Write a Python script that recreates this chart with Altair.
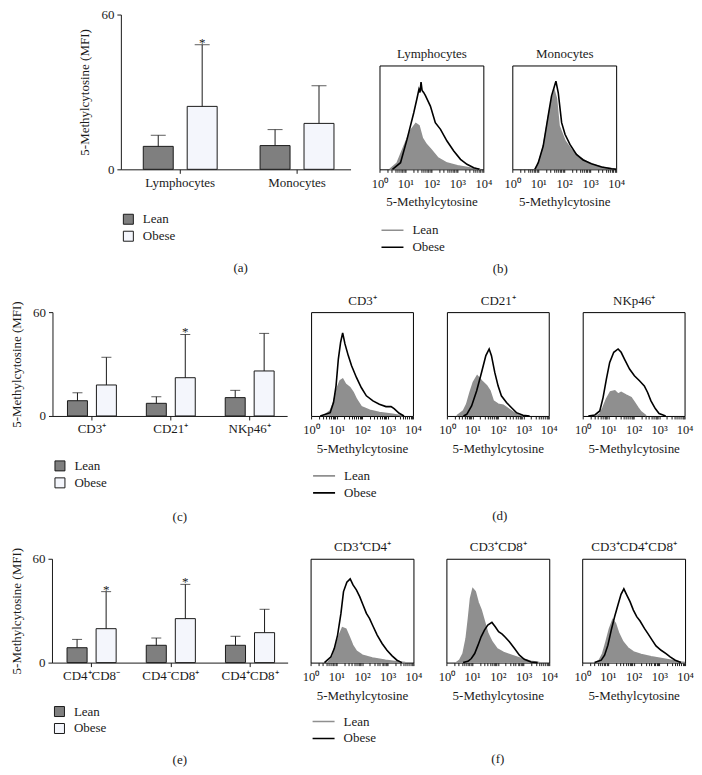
import math
import altair as alt
import pandas as pd

FONT = "Liberation Serif"
FS = 13
INK = "#1a1a1a"
GRAY_BAR = "#7f7f7f"
WHITE_BAR = "#f4f6fc"
GRAY_HIST = "#8f8f8f"

groups = ["Lean", "Obese"]

# ---------------- bar panels: mean and top of error bar (mean + SD) ----------------
cats_a = ["Lymphocytes", "Monocytes"]
lean_a = [8.9, 9.2]
lean_a_top = [13.2, 15.4]
obese_a = [24.4, 17.8]
obese_a_top = [48.3, 32.4]
sig_a = ["*", ""]

cats_c = ["CD3⁺", "CD21⁺", "NKp46⁺"]
lean_c = [8.8, 7.3, 10.6]
lean_c_top = [13.4, 11.1, 14.8]
obese_c = [17.9, 22.1, 26.0]
obese_c_top = [33.9, 47.1, 47.7]
sig_c = ["", "*", ""]

cats_e = ["CD4⁺CD8⁻", "CD4⁻CD8⁺", "CD4⁺CD8⁺"]
lean_e = [8.6, 10.0, 10.0]
lean_e_top = [13.4, 14.2, 15.2]
obese_e = [19.6, 25.4, 17.3]
obese_e_top = [41.0, 45.2, 30.8]
sig_e = ["*", "*", ""]

# ---------------- histograms: x = log10(intensity), y = relative count ----------------
lymph_lean_x = [0.40, 0.68, 0.94, 1.19, 1.40, 1.52, 1.65, 1.80, 1.98, 2.25, 2.60, 3.00, 3.50, 3.88]
lymph_lean_y = [0, 6, 22, 37, 44, 42, 30, 24, 19, 11, 6, 3.5, 1.2, 0]
lymph_obese_x = [0.50, 0.81, 1.06, 1.32, 1.45, 1.52, 1.56, 1.60, 1.64, 1.70, 1.77, 1.96, 2.15, 2.35, 2.60, 2.86, 3.12, 3.37, 3.63, 3.85]
lymph_obese_y = [0, 6.4, 28.8, 54.5, 68.9, 77, 74, 84, 76, 74, 71, 60.9, 44.9, 38.5, 27.2, 17.6, 9.6, 4.8, 1.6, 0]

mono_lean_x = [0.87, 1.00, 1.19, 1.38, 1.51, 1.62, 1.70, 1.80, 2.03, 2.28, 2.60, 3.05, 3.56, 4.0]
mono_lean_y = [0, 5, 21, 49, 66, 75, 68, 42, 27.2, 18.6, 11.2, 4.8, 1.6, 0]
mono_obese_x = [0.87, 1.00, 1.19, 1.38, 1.51, 1.68, 1.77, 1.90, 2.03, 2.22, 2.47, 2.73, 3.05, 3.44, 3.82, 4.0]
mono_obese_y = [0, 6.4, 22.4, 51.3, 70.5, 84.9, 73.7, 44.9, 33.7, 24.0, 14.4, 9.0, 5.4, 2.2, 0.6, 0]

cd3_lean_x = [0.49, 0.75, 0.88, 1.01, 1.14, 1.24, 1.35, 1.52, 1.65, 1.78, 1.97, 2.30, 2.68, 3.20, 3.59]
cd3_lean_y = [0, 4.8, 12.9, 25.8, 33.9, 35.5, 30.6, 27.4, 22.6, 16.1, 9.0, 5.5, 3.2, 1.6, 0]
cd3_obese_x = [0.36, 0.75, 0.88, 0.98, 1.07, 1.16, 1.24, 1.33, 1.46, 1.59, 1.78, 1.97, 2.17, 2.43, 2.68, 2.94, 3.14, 3.26, 3.46, 3.65]
cd3_obese_y = [0, 3.2, 12.9, 29.0, 54.8, 71.0, 80.0, 69.4, 58.1, 48.4, 37.1, 27.4, 19.4, 14.5, 11.3, 9.0, 9.0, 7.1, 2.6, 0]

cd21_lean_x = [0.39, 0.65, 0.78, 0.91, 1.04, 1.19, 1.36, 1.56, 1.69, 1.82, 2.01, 2.21, 2.40, 2.66, 2.99]
cd21_lean_y = [0, 4.8, 11.3, 22.6, 32.3, 38.7, 33.9, 29.0, 24.2, 14.5, 11.3, 10.3, 7.1, 2.6, 0]
cd21_obese_x = [0.65, 0.78, 0.97, 1.17, 1.36, 1.53, 1.66, 1.75, 1.88, 2.01, 2.14, 2.34, 2.53, 2.73, 2.99, 3.25]
cd21_obese_y = [0, 1.6, 9.7, 24.2, 41.9, 58.1, 64.5, 58.1, 41.9, 29.0, 19.4, 12.9, 8.1, 3.2, 0.6, 0]

nk_lean_x = [0.54, 0.67, 0.80, 0.93, 1.09, 1.26, 1.39, 1.51, 1.71, 1.90, 2.03, 2.16, 2.29, 2.49]
nk_lean_y = [0, 1.6, 8.1, 16.1, 23.2, 24.2, 21.0, 22.6, 20.0, 17.7, 12.9, 8.1, 3.9, 0]
nk_obese_x = [0.22, 0.48, 0.67, 0.80, 0.93, 1.06, 1.22, 1.39, 1.51, 1.64, 1.84, 2.03, 2.23, 2.42, 2.55, 2.68, 2.85, 3.00, 3.26]
nk_obese_y = [0, 1.0, 4.8, 17.7, 35.5, 51.6, 61.3, 64.5, 61.3, 54.8, 45.2, 38.7, 33.9, 29.0, 22.6, 14.5, 7.1, 2.3, 0]

cd4_lean_x = [0.67, 0.86, 0.99, 1.12, 1.24, 1.37, 1.50, 1.63, 1.78, 2.01, 2.40, 2.91, 3.42, 3.68]
cd4_lean_y = [0, 5.5, 16.8, 26.5, 33.5, 32.3, 24.8, 16.8, 11.0, 7.1, 4.5, 2.3, 0.6, 0]
cd4_obese_x = [0.54, 0.79, 0.92, 1.05, 1.18, 1.28, 1.41, 1.54, 1.65, 1.78, 1.91, 2.04, 2.17, 2.29, 2.42, 2.59, 2.78, 2.97, 3.17, 3.36, 3.55]
cd4_obese_y = [0, 5.5, 13.5, 26.5, 47.4, 68.4, 77.4, 80.6, 74.8, 70.0, 63.5, 55.5, 47.4, 42.6, 35.5, 26.5, 18.4, 11.9, 6.5, 2.3, 0]

cd8_lean_x = [0.39, 0.52, 0.65, 0.77, 0.86, 0.94, 1.03, 1.12, 1.23, 1.35, 1.48, 1.61, 1.77, 1.96, 2.22, 2.52, 2.90, 3.29, 3.61]
cd8_lean_y = [0, 2.3, 8.7, 23.2, 42.6, 61.9, 71.0, 68.4, 58.1, 50.6, 39.4, 28.1, 20.0, 13.5, 9.7, 7.1, 3.9, 1.3, 0]
cd8_obese_x = [0.65, 0.84, 0.97, 1.10, 1.23, 1.35, 1.48, 1.61, 1.77, 1.90, 2.03, 2.17, 2.30, 2.45, 2.65, 2.84, 3.03, 3.29, 3.55]
cd8_obese_y = [0, 1.3, 3.9, 8.7, 16.8, 24.8, 31.3, 36.1, 38.7, 34.5, 29.7, 27.4, 24.2, 20.0, 13.5, 7.1, 3.2, 0.6, 0]

dp_lean_x = [0.52, 0.67, 0.80, 0.93, 1.06, 1.19, 1.29, 1.42, 1.58, 1.77, 1.99, 2.29, 2.68, 3.07, 3.46, 3.84, 4.0]
dp_lean_y = [0, 2.3, 8.7, 20.0, 32.3, 41.0, 37.7, 28.1, 20.0, 14.2, 10.3, 7.7, 5.5, 3.9, 2.3, 0.6, 0]
dp_obese_x = [0.48, 0.74, 0.87, 1.00, 1.13, 1.26, 1.39, 1.51, 1.62, 1.73, 1.86, 1.99, 2.12, 2.25, 2.42, 2.55, 2.72, 2.87, 3.07, 3.26, 3.42, 3.62, 3.84]
dp_obese_y = [0, 2.3, 7.1, 16.8, 31.3, 44.2, 55.5, 65.8, 71.0, 65.2, 58.7, 50.6, 44.2, 40.0, 32.9, 28.1, 21.6, 16.1, 11.9, 8.7, 5.5, 2.3, 0]

# log-axis tick positions (decades labelled, 2..9 minor ticks unlabelled)
log_ticks = [d + math.log10(k) for d in range(4) for k in range(1, 10)] + [4]


def bar_frame(cats, lean, lean_top, obese, obese_top, sig):
    rows = []
    for i, c in enumerate(cats):
        rows.append({"cat": c, "group": "Lean", "mean": lean[i], "top": lean_top[i], "sig": ""})
        rows.append({"cat": c, "group": "Obese", "mean": obese[i], "top": obese_top[i], "sig": sig[i]})
    return pd.DataFrame(rows)


def bar_panel(df, cats, width, xrange, yrange, pad_in, pad_out, align, inner_pad, cap,
              label, label_dx, label_offset, legend_y):
    xsc = alt.Scale(domain=cats, paddingInner=pad_in, paddingOuter=pad_out, align=align, range=xrange)
    osc = alt.Scale(domain=groups, paddingInner=inner_pad, paddingOuter=0)
    ysc = alt.Scale(domain=[0, 60], nice=False, zero=True, range=yrange)
    X = alt.X("cat:N", scale=xsc, sort=cats,
              axis=alt.Axis(title=None, labelAngle=0, tickSize=4, labelPadding=3))
    XO = alt.XOffset("group:N", scale=osc, sort=groups)
    Y = alt.Y("mean:Q", scale=ysc,
              axis=alt.Axis(values=[0, 20, 40, 60], title="5-Methylcytosine (MFI)", grid=False,
                            tickSize=4, labelPadding=3, titlePadding=9))
    base = alt.Chart(df)
    bars = base.mark_bar(stroke=INK, strokeWidth=1).encode(
        x=X, xOffset=XO, y=Y,
        fill=alt.Fill("group:N", sort=groups,
                      scale=alt.Scale(domain=groups, range=[GRAY_BAR, WHITE_BAR]),
                      legend=alt.Legend(orient="none", legendX=1, legendY=legend_y, title=None,
                                        symbolType="square", symbolSize=100, symbolStrokeColor=INK,
                                        symbolStrokeWidth=1, labelOffset=8, rowPadding=3,
                                        clipHeight=14, direction="vertical")))
    err = base.mark_rule(color=INK, strokeWidth=1).encode(x=X, xOffset=XO, y="mean:Q", y2="top:Q")
    caps = base.mark_tick(color=INK, thickness=1, size=cap, xOffset=cap / 2).encode(
        x=X, xOffset=XO, y="top:Q")
    stars = base.transform_filter("datum.sig != ''").mark_text(
        font=FONT, fontSize=13, dy=2, baseline="alphabetic", color=INK).encode(
        x=X, xOffset=XO, y="top:Q", text="sig:N")
    return alt.layer(bars, err, caps, stars).properties(
        width=width, height=104,
        title=alt.TitleParams(label, orient="bottom", anchor="middle", frame="group",
                              offset=label_offset, dx=label_dx))


def hist_panel(title, lx, ly, ox, oy, width, legend_y=None, label=None, label_dx=0, label_offset=0):
    dl = pd.DataFrame({"x": lx, "y": ly, "s": "Lean"})
    do = pd.DataFrame({"x": ox, "y": oy, "s": "Obese"})
    dall = pd.concat([dl, do], ignore_index=True)
    xs = alt.Scale(domain=[0, 4], nice=False, zero=False)
    ys = alt.Scale(domain=[0, 100], nice=False)
    xb = alt.X("x:Q", scale=xs, axis=alt.Axis(
        orient="bottom", values=log_ticks,
        labelExpr="datum.value == round(datum.value) ? '10' + ['⁰','¹','²','³','⁴'][round(datum.value)] : ''",
        title="5-Methylcytosine", grid=False, domain=False, tickSize=3,
        labelPadding=5, titlePadding=6, labelFlush=False, labelOverlap=False,
        labelFontSize=12.5))
    xt = alt.X("x:Q", scale=xs, axis=alt.Axis(
        orient="top", title=title, labels=False, ticks=False, domain=False, grid=False,
        titlePadding=5))
    area = alt.Chart(dl).mark_area(color=GRAY_HIST, opacity=1).encode(
        x=xb, y=alt.Y("y:Q", scale=ys, axis=None))
    if legend_y is not None:
        leg = alt.Legend(orient="none", legendX=1, legendY=legend_y, title=None,
                         symbolType="stroke", symbolSize=484, symbolStrokeWidth=1.6,
                         labelOffset=8, rowPadding=3, clipHeight=14, direction="vertical")
    else:
        leg = None
    lines = alt.Chart(dall).mark_line(strokeWidth=1.6).encode(
        x=xt, y=alt.Y("y:Q", scale=ys, axis=None),
        stroke=alt.Stroke("s:N", sort=groups,
                          scale=alt.Scale(domain=groups, range=[GRAY_HIST, "black"]),
                          legend=leg))
    ch = alt.layer(area, lines).properties(
        width=width, height=104,
        view=alt.ViewBackground(stroke="black", strokeWidth=1))
    if label:
        ch = ch.properties(title=alt.TitleParams(label, orient="bottom", anchor="middle",
                                                 frame="group", offset=label_offset, dx=label_dx))
    return ch


barA = bar_panel(bar_frame(cats_a, lean_a, lean_a_top, obese_a, obese_a_top, sig_a), cats_a,
                 230, [0, 230], [104, -51], 0.3675, 0.1667, 0.575, 0.318, 15,
                 "(a)", 5, 19, 147)
hb1 = hist_panel("Lymphocytes", lymph_lean_x, lymph_lean_y, lymph_obese_x, lymph_obese_y, 104,
                 legend_y=158, label="(b)", label_dx=69, label_offset=9)
hb2 = hist_panel("Monocytes", mono_lean_x, mono_lean_y, mono_obese_x, mono_obese_y, 104)

barC = bar_panel(bar_frame(cats_c, lean_c, lean_c_top, obese_c, obese_c_top, sig_c), cats_c,
                 225, [0, 235], [104, 0], 0.38, 0.1775, 0.536, 0.31, 10,
                 "(c)", 15, 21, 147)
hd1 = hist_panel("CD3⁺", cd3_lean_x, cd3_lean_y, cd3_obese_x, cd3_obese_y, 102, legend_y=157)
hd2 = hist_panel("CD21⁺", cd21_lean_x, cd21_lean_y, cd21_obese_x, cd21_obese_y, 102,
                 label="(d)", label_dx=2, label_offset=55)
hd3 = hist_panel("NKp46⁺", nk_lean_x, nk_lean_y, nk_obese_x, nk_obese_y, 102)

barE = bar_panel(bar_frame(cats_e, lean_e, lean_e_top, obese_e, obese_e_top, sig_e), cats_e,
                 226, [0, 236], [104, 0], 0.38, 0.1775, 0.536, 0.31, 10,
                 "(e)", 15, 19, 146)
hf1 = hist_panel("CD3⁺CD4⁺", cd4_lean_x, cd4_lean_y, cd4_obese_x, cd4_obese_y, 103, legend_y=156)
hf2 = hist_panel("CD3⁺CD8⁺", cd8_lean_x, cd8_lean_y, cd8_obese_x, cd8_obese_y, 103,
                 label="(f)", label_dx=0, label_offset=51)
hf3 = hist_panel("CD3⁺CD4⁺CD8⁺", dp_lean_x, dp_lean_y, dp_obese_x, dp_obese_y, 103)

RES = dict(fill="independent", stroke="independent", xOffset="independent")

row1 = alt.hconcat(barA, hb1, hb2, spacing=29, bounds="flush").resolve_scale(**RES)
row2 = alt.hconcat(barC, hd1, hd2, hd3, spacing=34, bounds="flush").resolve_scale(**RES)
row3 = alt.hconcat(barE, hf1, hf2, hf3, spacing=33, bounds="flush").resolve_scale(**RES)

chart = alt.vconcat(row1, row2, row3, spacing=16, center=True).resolve_scale(**RES).properties(
    padding={"top": 0, "left": 2, "right": 0, "bottom": 0}
).configure_view(
    strokeWidth=0
).configure_axis(
    labelFont=FONT, titleFont=FONT, labelFontSize=FS, titleFontSize=FS,
    titleFontWeight="normal", labelColor=INK, titleColor=INK,
    domainColor=INK, tickColor=INK
).configure_legend(
    labelFont=FONT, labelFontSize=FS, labelColor=INK, padding=0
).configure_title(
    font=FONT, fontSize=FS, fontWeight="normal", color=INK
)

chart.save("out.html", embed_options={"renderer": "svg", "actions": False})
